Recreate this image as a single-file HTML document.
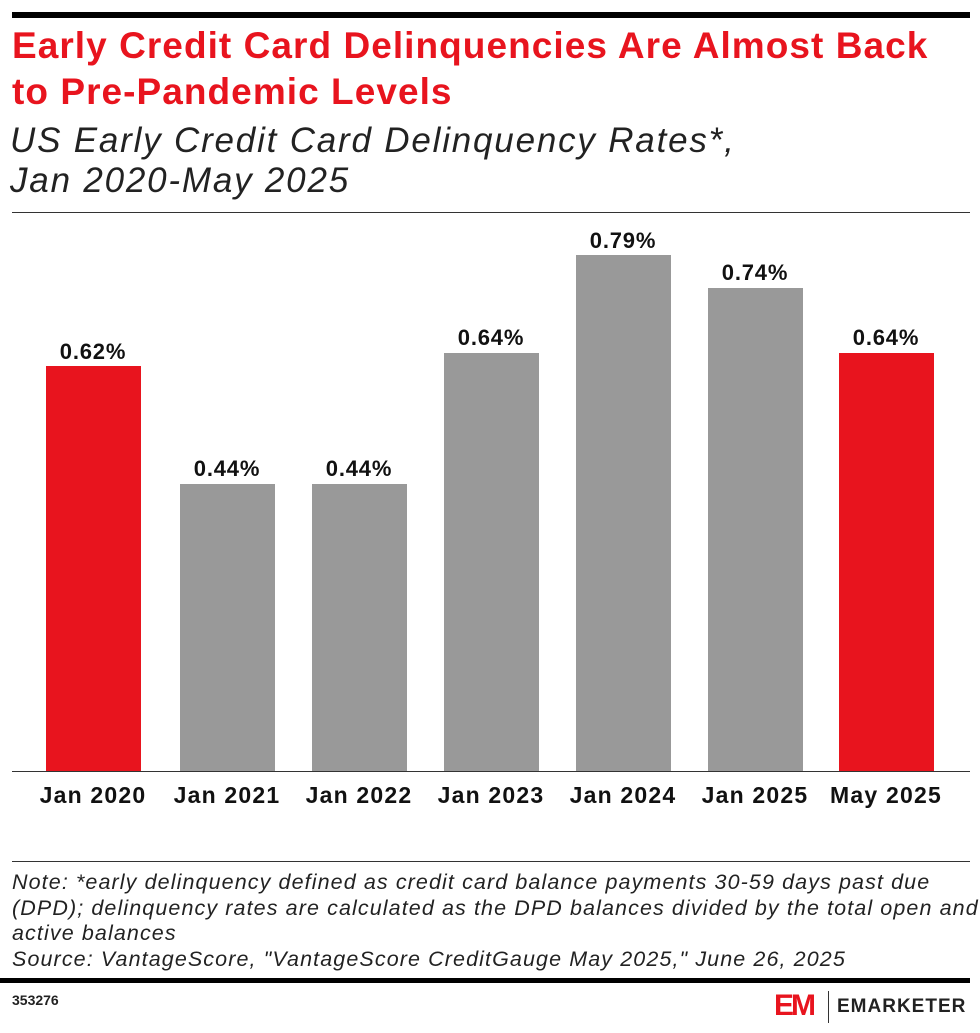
<!DOCTYPE html><html><head><style>
body{margin:0;width:980px;height:1033px;background:#fff;position:relative;font-family:"Liberation Sans",sans-serif;overflow:hidden}
.a{position:absolute}
.bar{position:absolute;bottom:262px;width:95px;background:#999}
.r{background:#e8141e}
.v{position:absolute;font-weight:bold;font-size:22px;letter-spacing:0.8px;width:160px;text-align:center;color:#111}
.x{position:absolute;top:782px;font-weight:bold;font-size:23px;letter-spacing:1.2px;width:160px;text-align:center;color:#111}
</style></head><body>
<div class="a" style="left:12px;top:12px;width:958px;height:6px;background:#000"></div>
<div class="a" style="left:12px;top:23px;font-size:37px;font-weight:bold;color:#e8141e;line-height:46px;letter-spacing:1.05px;white-space:nowrap">Early Credit Card Delinquencies Are Almost Back<br>to Pre-Pandemic Levels</div>
<div class="a" style="left:10px;top:121px;font-size:35px;font-style:italic;color:#222;line-height:40px;letter-spacing:1.8px;white-space:nowrap">US Early Credit Card Delinquency Rates*,<br>Jan 2020-May 2025</div>
<div class="a" style="left:12px;top:212px;width:958px;height:1px;background:#333"></div>
<div class="bar r" style="left:46px;height:405px"></div>
<div class="bar" style="left:180px;height:287px"></div>
<div class="bar" style="left:312px;height:287px"></div>
<div class="bar" style="left:444px;height:418px"></div>
<div class="bar" style="left:576px;height:516px"></div>
<div class="bar" style="left:708px;height:483px"></div>
<div class="bar r" style="left:839px;height:418px"></div>
<div class="a" style="left:12px;top:771px;width:958px;height:1px;background:#333"></div>
<div class="v" style="left:13px;top:339px">0.62%</div>
<div class="v" style="left:147px;top:456px">0.44%</div>
<div class="v" style="left:279px;top:456px">0.44%</div>
<div class="v" style="left:411px;top:325px">0.64%</div>
<div class="v" style="left:543px;top:228px">0.79%</div>
<div class="v" style="left:675px;top:260px">0.74%</div>
<div class="v" style="left:806px;top:325px">0.64%</div>
<div class="x" style="left:13px">Jan 2020</div>
<div class="x" style="left:147px">Jan 2021</div>
<div class="x" style="left:279px">Jan 2022</div>
<div class="x" style="left:411px">Jan 2023</div>
<div class="x" style="left:543px">Jan 2024</div>
<div class="x" style="left:675px">Jan 2025</div>
<div class="x" style="left:806px">May 2025</div>
<div class="a" style="left:12px;top:861px;width:958px;height:1px;background:#333"></div>
<div class="a" style="left:12px;top:870px;font-size:21.5px;font-style:italic;color:#222;line-height:25.7px;letter-spacing:1.1px;white-space:nowrap">Note: *early delinquency defined as credit card balance payments 30-59 days past due<br>(DPD); delinquency rates are calculated as the DPD balances divided by the total open and<br>active balances<br>Source: VantageScore, "VantageScore CreditGauge May 2025," June 26, 2025</div>
<div class="a" style="left:0;top:978px;width:970px;height:5px;background:#000"></div>
<div class="a" style="left:12px;top:992px;font-size:14px;font-weight:bold;color:#222">353276</div>
<div class="a" style="left:774px;top:993px;width:44px;height:26px;font-size:30px;font-weight:900;color:#e8141e;line-height:26px;letter-spacing:-3px">EM</div>
<div class="a" style="left:828px;top:991px;width:1px;height:32px;background:#333"></div>
<div class="a" style="left:837px;top:996px;font-size:19px;font-weight:bold;color:#222;letter-spacing:1px">EMARKETER</div>
</body></html>
